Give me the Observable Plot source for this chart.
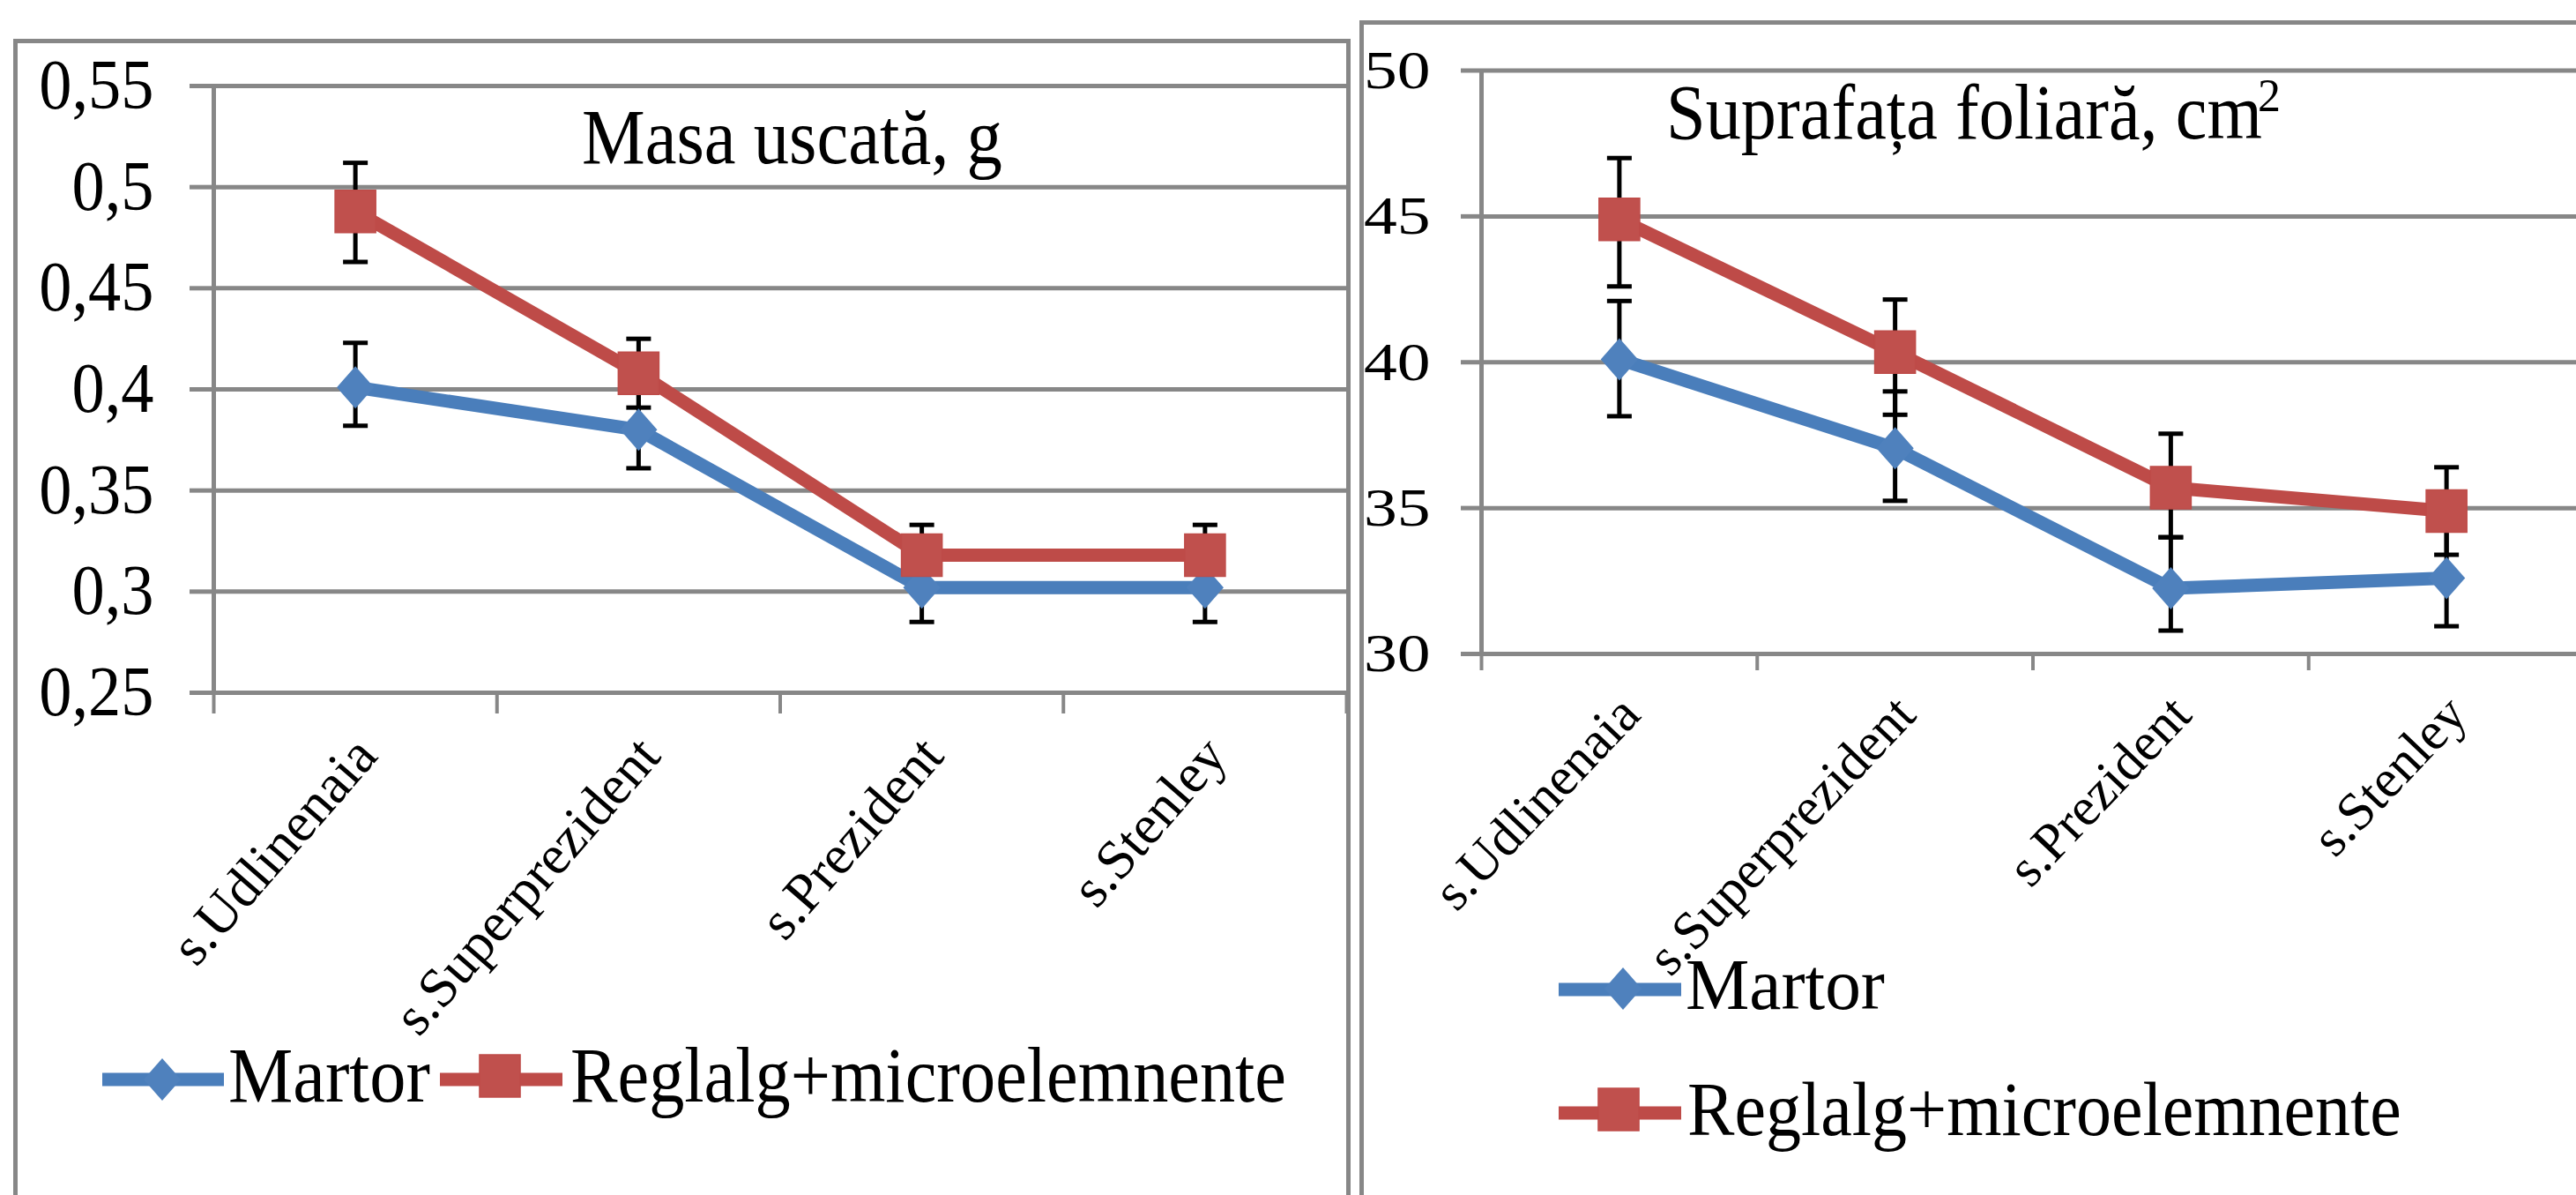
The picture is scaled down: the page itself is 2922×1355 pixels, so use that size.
<!DOCTYPE html>
<html>
<head>
<meta charset="utf-8">
<script src="https://cdn.jsdelivr.net/npm/d3@7"></script>
<script src="https://cdn.jsdelivr.net/npm/@observablehq/plot@0.6"></script>
<style>
  html, body { margin: 0; padding: 0; background: #fff; }
  #page { position: relative; width: 2922px; height: 1355px; overflow: hidden; background: #fff;
          font-family: "Liberation Serif", "Times New Roman", serif; }
  .frame { position: absolute; box-sizing: border-box; border: 5px solid #878787; }
  .chart { position: absolute; top: 0; }
  #overlay { position: absolute; left: 0; top: 0; pointer-events: none; }
</style>
</head>
<body>
<div id="page">
  <div class="frame" style="left:15px; top:44px; width:1517px; height:1400px"></div>
  <div class="frame" style="left:1542px; top:23px; width:1500px; height:1400px"></div>
  <div class="chart" id="masa" style="left:0px"></div>
  <div class="chart" id="supr" style="left:1400px"></div>
</div>
<script>
// Varieties (x categories) and the two treatments
const categories = ["s.Udlinenaia", "s.Superprezident", "s.Prezident", "s.Stenley"];
const seriesNames = ["Martor", "Reglalg+microelemnente"];

// Dry mass, g
const masaMartor       = [0.401, 0.380, 0.302, 0.302];
const masaMartorPlus   = [0.022, 0.019, 0.017, 0.017];
const masaMartorMinus  = [0.019, 0.019, 0.017, 0.017];
const masaReglalg      = [0.488, 0.408, 0.318, 0.318];
const masaReglalgPlus  = [0.024, 0.017, 0.015, 0.015];
const masaReglalgMinus = [0.025, 0.017, 0.015, 0.015];
const masaTicks = [0.25, 0.3, 0.35, 0.4, 0.45, 0.5, 0.55];

// Leaf area, cm2
const suprMartor       = [40.1, 37.05, 32.25, 32.6];
const suprMartorPlus   = [2.0, 1.95, 1.75, 1.65];
const suprMartorMinus  = [1.95, 1.8, 1.45, 1.65];
const suprReglalg      = [44.9, 40.35, 35.7, 34.9];
const suprReglalgPlus  = [2.1, 1.8, 1.85, 1.5];
const suprReglalgMinus = [2.3, 2.15, 1.7, 1.5];
const suprTicks = [30, 35, 40, 45, 50];

const FONT = '"Liberation Serif", "Times New Roman", serif';
const GRID = "#878787";
const BLUE_LINE = "#4A7EBB", BLUE_FILL = "#4F81BD";
const RED_LINE = "#BE4B48", RED_FILL = "#C0504D";

function rowsFor(series, values, plus, minus) {
  return categories.map((category, i) => ({
    category, series, x: i + 0.5,
    value: values[i], lo: values[i] - minus[i], hi: values[i] + plus[i]
  }));
}

// Marker shapes (size follows d3's area convention, r = sqrt(size / PI))
const diamondSymbol = {draw(ctx, size) {
  const r = Math.sqrt(size / Math.PI), w = r * 0.88;
  ctx.moveTo(0, -r); ctx.lineTo(w, 0); ctx.lineTo(0, r); ctx.lineTo(-w, 0); ctx.closePath();
}};
const squareSymbol = {draw(ctx, size) {
  const r = Math.sqrt(size / Math.PI), w = r * 0.96;
  ctx.rect(-w, -r, 2 * w, 2 * r);
}};
const capSymbol = {draw(ctx, size) {
  const r = Math.sqrt(size / Math.PI);
  ctx.moveTo(-r, 0); ctx.lineTo(r, 0);
}};

function lineChart(rows, cfg) {
  const blue = rows.filter(d => d.series === seriesNames[0]);
  const red = rows.filter(d => d.series === seriesNames[1]);
  return Plot.plot({
    width: cfg.width, height: cfg.height,
    marginLeft: cfg.marginLeft, marginRight: 0,
    marginTop: cfg.marginTop, marginBottom: cfg.marginBottom,
    style: {background: "transparent", maxWidth: "none", overflow: "visible", fontFamily: FONT, color: "black"},
    x: {domain: [0, categories.length], label: null},
    y: {domain: cfg.yDomain, label: null},
    marks: [
      Plot.gridY(cfg.ticks, {stroke: GRID, strokeOpacity: 1, strokeWidth: 5}),
      Plot.axisY({ticks: cfg.ticks, tickSize: cfg.yTickSize, tickPadding: cfg.yTickPadding,
                  stroke: GRID, strokeWidth: 5, strokeOpacity: 1, fill: "black", label: null,
                  fontSize: cfg.yFontSize, tickFormat: cfg.tickFormat}),
      Plot.ruleX([0], {stroke: GRID, strokeWidth: 5}),
      Plot.axisX({ticks: d3.range(categories.length + 1), tickSize: cfg.xTickSize, label: null,
                  stroke: GRID, strokeWidth: 4, strokeOpacity: 1, tickFormat: () => ""}),
      Plot.axisX({ticks: categories.map((_, i) => i + 0.5), tickSize: 0, label: null,
                  tickPadding: cfg.xLabelPadding, tickRotate: cfg.xRotate, dx: cfg.xLabelDx,
                  fontSize: cfg.xFontSize, fill: "black",
                  tickFormat: d => categories[Math.floor(d)]}),
      // error bars
      Plot.ruleX(rows, {x: "x", y1: "lo", y2: "hi", stroke: "black", strokeWidth: 5}),
      Plot.dot(rows, {x: "x", y: "lo", symbol: capSymbol, r: 14, fill: "none", stroke: "black", strokeWidth: 5}),
      Plot.dot(rows, {x: "x", y: "hi", symbol: capSymbol, r: 14, fill: "none", stroke: "black", strokeWidth: 5}),
      // Martor
      Plot.line(blue, {x: "x", y: "value", stroke: BLUE_LINE, strokeWidth: 15}),
      Plot.dot(blue, {x: "x", y: "value", symbol: diamondSymbol, r: 24, fill: BLUE_FILL, stroke: "none"}),
      // Reglalg + microelemente
      Plot.line(red, {x: "x", y: "value", stroke: RED_LINE, strokeWidth: 15}),
      Plot.dot(red, {x: "x", y: "value", symbol: squareSymbol, r: 24, fill: RED_FILL, stroke: RED_LINE, strokeWidth: 1.5})
    ]
  });
}

function stretchTicks(svg, sx) {
  svg.querySelectorAll('g[aria-label="y-axis tick label"] text').forEach(t => {
    let tr = t.getAttribute("transform");
    if (!tr) {
      tr = `translate(${t.getAttribute("x") || 0},${t.getAttribute("y") || 0})`;
      t.setAttribute("x", 0);
    }
    t.setAttribute("transform", `${tr} scale(${sx},1)`);
  });
}

const masaRows = [
  ...rowsFor(seriesNames[0], masaMartor, masaMartorPlus, masaMartorMinus),
  ...rowsFor(seriesNames[1], masaReglalg, masaReglalgPlus, masaReglalgMinus)
];
const suprRows = [
  ...rowsFor(seriesNames[0], suprMartor, suprMartorPlus, suprMartorMinus),
  ...rowsFor(seriesNames[1], suprReglalg, suprReglalgPlus, suprReglalgMinus)
];

const masaPlot = lineChart(masaRows, {
  width: 1527, height: 1300, marginLeft: 242, marginTop: 97, marginBottom: 515,
  yDomain: [0.25, 0.55], ticks: masaTicks,
  yTickSize: 27, yTickPadding: 41, yFontSize: 80,
  tickFormat: d => String(d).replace(".", ","),
  xTickSize: 24, xLabelPadding: 60, xRotate: -49, xLabelDx: 12, xFontSize: 63
});
stretchTicks(masaPlot, 0.93);
document.getElementById("masa").append(masaPlot);

const suprPlot = lineChart(suprRows, {
  width: 1531, height: 1300, marginLeft: 280, marginTop: 79.5, marginBottom: 559,
  yDomain: [30, 50], ticks: suprTicks,
  yTickSize: 23, yTickPadding: 35, yFontSize: 62,
  tickFormat: d => String(d),
  xTickSize: 19, xLabelPadding: 58, xRotate: -46.5, xLabelDx: 12, xFontSize: 61
});
stretchTicks(suprPlot, 1.22);
document.getElementById("supr").append(suprPlot);

// Titles and legends
const overlay = d3.select("#page").append("svg").attr("id", "overlay")
  .attr("width", 2922).attr("height", 1355)
  .style("font-family", FONT);

function fittedText(text, x, baseline, size, width) {
  const t = overlay.append("text").attr("font-size", size).attr("fill", "black").text(text);
  const len = t.node().getComputedTextLength();
  t.attr("transform", `translate(${x},${baseline}) scale(${width / len},1)`);
}

function legendEntry(x0, x1, y, color, fill, symbol, cx, cy, label, tx, tBase, tSize, tWidth) {
  overlay.append("line").attr("x1", x0).attr("x2", x1).attr("y1", y).attr("y2", y)
    .attr("stroke", color).attr("stroke-width", 15);
  overlay.append("path").attr("d", d3.symbol(symbol, Math.PI * 24 * 24)())
    .attr("transform", `translate(${cx},${cy})`)
    .attr("fill", fill).attr("stroke", color === RED_LINE ? RED_LINE : "none").attr("stroke-width", 1.5);
  fittedText(label, tx, tBase, tSize, tWidth);
}

fittedText("Masa uscată, g", 660, 185, 89, 477);
fittedText("Suprafața foliară, cm", 1890, 157, 88, 676);
fittedText("2", 2561, 126, 53, 26);

legendEntry(116, 254, 1224, BLUE_LINE, BLUE_FILL, diamondSymbol, 184, 1224, seriesNames[0], 259, 1249, 88, 229);
legendEntry(499, 638, 1224, RED_LINE, RED_FILL, squareSymbol, 567, 1220, seriesNames[1], 647, 1249, 88, 812);

legendEntry(1768, 1907, 1122, BLUE_LINE, BLUE_FILL, diamondSymbol, 1841, 1121, seriesNames[0], 1912, 1144, 83, 226);
legendEntry(1768, 1907, 1262, RED_LINE, RED_FILL, squareSymbol, 1836, 1258, seriesNames[1], 1914, 1287, 86, 810);
</script>
</body>
</html>
